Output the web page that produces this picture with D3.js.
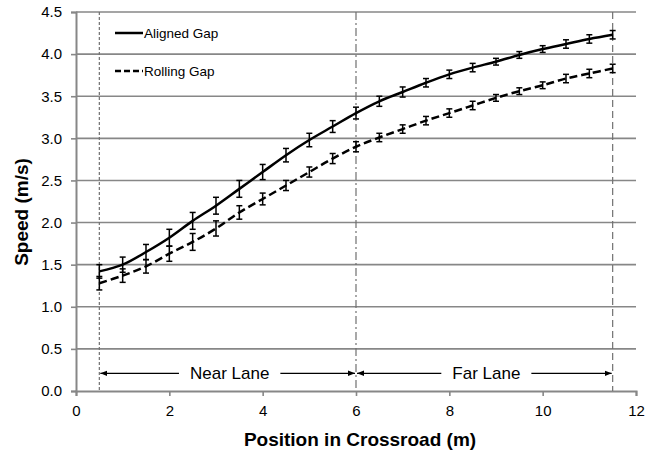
<!DOCTYPE html>
<html>
<head>
  <meta charset="utf-8">
  <title>Speed in crossroad</title>
  <script src="https://d3js.org/d3.v7.min.js"></script>
  <style type="text/css">
    body {margin: 0; background: #fff;}
    text {font-family: 'Liberation Sans', Arial, sans-serif; fill: #000;}
    .tick text {font-size: 15px;}
    .axisTitle {font-size: 19px; font-weight: bold;}
  </style>
</head>
<body>
  <div id="viz"></div>
</body>
<script type="text/javascript">

  // data
  const positions = [0.5, 1, 1.5, 2, 2.5, 3, 3.5, 4, 4.5, 5, 5.5, 6, 6.5, 7, 7.5, 8, 8.5, 9, 9.5, 10, 10.5, 11, 11.5];
  const alignedSpeed = [1.42, 1.50, 1.65, 1.82, 2.02, 2.20, 2.40, 2.60, 2.80, 2.98, 3.14, 3.30, 3.44, 3.55, 3.66, 3.76, 3.84, 3.91, 3.99, 4.06, 4.12, 4.18, 4.23];
  const alignedErr = [0.08, 0.09, 0.09, 0.10, 0.10, 0.10, 0.10, 0.09, 0.08, 0.08, 0.07, 0.07, 0.06, 0.06, 0.05, 0.05, 0.05, 0.04, 0.04, 0.04, 0.05, 0.05, 0.05];
  const rollingSpeed = [1.28, 1.37, 1.48, 1.63, 1.77, 1.93, 2.12, 2.28, 2.44, 2.60, 2.76, 2.90, 3.01, 3.11, 3.21, 3.30, 3.39, 3.48, 3.56, 3.63, 3.71, 3.77, 3.83];
  const rollingErr = [0.08, 0.08, 0.08, 0.09, 0.10, 0.09, 0.08, 0.07, 0.06, 0.06, 0.06, 0.06, 0.05, 0.05, 0.05, 0.05, 0.05, 0.04, 0.04, 0.04, 0.05, 0.05, 0.05];
  const xTicks = [0, 2, 4, 6, 8, 10, 12];
  const yTicks = [0, 0.5, 1, 1.5, 2, 2.5, 3, 3.5, 4, 4.5];
  const laneBounds = [0.5, 6, 11.5];
  const laneNames = ["Near Lane", "Far Lane"];

  const FULLW = 656;
  const FULLH = 452;
  const MARGIN = { top: 12, right: 20, bottom: 61, left: 76 };
  const W = FULLW - MARGIN.left - MARGIN.right;
  const H = FULLH - MARGIN.top - MARGIN.bottom;

  const grey = "#878787";

  const x = d3.scaleLinear().domain([0, 12]).range([0, W]);
  const y = d3.scaleLinear().domain([0, 4.5]).range([H, 0]);

  const svg = d3.select("#viz").append("svg")
    .attr("width", FULLW)
    .attr("height", FULLH);

  svg.append("defs").append("marker")
    .attr("id", "arrow")
    .attr("viewBox", "0 0 10 10")
    .attr("refX", 10).attr("refY", 5)
    .attr("markerWidth", 7).attr("markerHeight", 7)
    .attr("markerUnits", "userSpaceOnUse")
    .attr("orient", "auto-start-reverse")
    .append("path")
    .attr("d", "M0,1 L10,5 L0,9 Z")
    .attr("fill", "#000");

  const g = svg.append("g")
    .attr("transform", "translate(" + MARGIN.left + "," + MARGIN.top + ")");

  // horizontal gridlines
  g.append("g").selectAll("line")
    .data(yTicks.filter(d => d > 0))
    .join("line")
    .attr("x1", 0).attr("x2", W)
    .attr("y1", d => y(d)).attr("y2", d => y(d))
    .attr("stroke", grey)
    .attr("stroke-width", 1.6);

  // axes
  const yAxis = g.append("g")
    .call(d3.axisLeft(y).tickValues(yTicks).tickFormat(d3.format(".1f")).tickSize(5).tickPadding(9));
  const xAxis = g.append("g")
    .attr("transform", "translate(0," + H + ")")
    .call(d3.axisBottom(x).tickValues(xTicks).tickSize(5).tickPadding(9));
  [xAxis, yAxis].forEach(a => {
    a.select(".domain").attr("stroke", grey).attr("stroke-width", 2);
    a.selectAll(".tick line").attr("stroke", grey).attr("stroke-width", 1.6);
    a.selectAll(".tick text").attr("fill", "#111");
  });

  // lane boundaries
  const boundDash = ["3,2", "8,3,2,3", "7,4"];
  g.append("g").selectAll("line")
    .data(laneBounds)
    .join("line")
    .attr("x1", d => x(d)).attr("x2", d => x(d))
    .attr("y1", 0).attr("y2", H)
    .attr("stroke", "#707070")
    .attr("stroke-width", 1.2)
    .attr("stroke-dasharray", (d, i) => boundDash[i]);

  // lane annotations
  const annY = y(0.21);
  laneNames.forEach((name, i) => {
    const x0 = x(laneBounds[i]) + 1;
    const x1 = x(laneBounds[i + 1]) - 1;
    const mid = (x0 + x1) / 2 + 2;
    const label = g.append("text")
      .attr("x", mid).attr("y", annY + 6)
      .attr("text-anchor", "middle")
      .style("font-size", "17px")
      .attr("fill", "#111")
      .text(name);
    const halfGap = label.node().getComputedTextLength() / 2 + 11;
    g.append("line")
      .attr("x1", mid - halfGap).attr("x2", x0)
      .attr("y1", annY).attr("y2", annY)
      .attr("stroke", "#000").attr("stroke-width", 1.2)
      .attr("marker-end", "url(#arrow)");
    g.append("line")
      .attr("x1", mid + halfGap).attr("x2", x1)
      .attr("y1", annY).attr("y2", annY)
      .attr("stroke", "#000").attr("stroke-width", 1.2)
      .attr("marker-end", "url(#arrow)");
  });

  // series
  const series = [
    { name: "Aligned Gap", values: alignedSpeed, err: alignedErr, dash: null },
    { name: "Rolling Gap", values: rollingSpeed, err: rollingErr, dash: "8,4" }
  ];

  const line = d3.line()
    .x(d => x(d[0]))
    .y(d => y(d[1]))
    .curve(d3.curveCatmullRom.alpha(0.5));

  series.forEach(s => {
    const pts = positions.map((p, i) => [p, s.values[i], s.err[i]]);
    g.append("path")
      .datum(pts)
      .attr("d", line)
      .attr("fill", "none")
      .attr("stroke", "#000")
      .attr("stroke-width", 2.5)
      .attr("stroke-dasharray", s.dash);

    const eb = g.append("g").selectAll("g")
      .data(pts)
      .join("g")
      .attr("stroke", "#000")
      .attr("stroke-width", 1.5);
    eb.append("line")
      .attr("x1", d => x(d[0])).attr("x2", d => x(d[0]))
      .attr("y1", d => y(d[1] - d[2])).attr("y2", d => y(d[1] + d[2]));
    eb.append("line")
      .attr("x1", d => x(d[0]) - 3).attr("x2", d => x(d[0]) + 3)
      .attr("y1", d => y(d[1] + d[2])).attr("y2", d => y(d[1] + d[2]));
    eb.append("line")
      .attr("x1", d => x(d[0]) - 3).attr("x2", d => x(d[0]) + 3)
      .attr("y1", d => y(d[1] - d[2])).attr("y2", d => y(d[1] - d[2]));
  });

  // legend
  const legend = g.append("g").attr("transform", "translate(39,21)");
  series.forEach((s, i) => {
    const row = legend.append("g").attr("transform", "translate(0," + (i * 38) + ")");
    row.append("line")
      .attr("x1", 0).attr("x2", 28)
      .attr("y1", 0).attr("y2", 0)
      .attr("stroke", "#000")
      .attr("stroke-width", 2.5)
      .attr("stroke-dasharray", s.dash ? "6,3" : null);
    row.append("text")
      .attr("x", 29).attr("y", 5)
      .style("font-size", "13.5px")
      .attr("fill", "#111")
      .text(s.name);
  });

  // axis titles
  svg.append("text")
    .attr("class", "axisTitle")
    .attr("transform", "translate(28,212) rotate(-90)")
    .attr("text-anchor", "middle")
    .text("Speed (m/s)");

  svg.append("text")
    .attr("class", "axisTitle")
    .attr("x", 360)
    .attr("y", 446)
    .attr("text-anchor", "middle")
    .text("Position in Crossroad (m)");

</script>
</html>
